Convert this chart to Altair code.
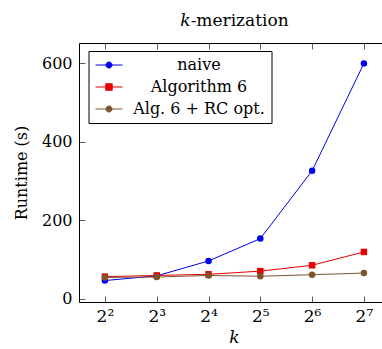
import altair as alt
import pandas as pd

k_values = [4, 8, 16, 32, 64, 128]
naive = [46, 58, 96, 153, 326, 600]
alg6 = [56, 59, 62, 70, 85, 119]
rc_opt = [54, 55, 59, 57, 61, 65]

series_names = ["naive", "Algorithm 6", "Alg. 6 + RC opt."]
series_colors = ["#0000f0", "#e60000", "#7d5430"]
series_shapes = ["circle", "square", "circle"]

rows = []
for name, vals in zip(series_names, [naive, alg6, rc_opt]):
    for k, v in zip(k_values, vals):
        rows.append({"k": k, "runtime": v, "series": name, "entry": name})
df = pd.DataFrame(rows)

FONT = "'DejaVu Serif', serif"
FS = 16
W, H = 303, 259

xscale = alt.Scale(type="log", base=2, domain=[2 ** 1.5, 2 ** 7.349], nice=False, zero=False)
yscale = alt.Scale(domain=[-8.7, 652], nice=False, zero=False)
cscale = alt.Scale(domain=series_names, range=series_colors)
sscale = alt.Scale(domain=series_names, range=series_shapes)

# legend symbols: a short line with the marker on it
circ = "M-2,0L2,0M0.45,0A0.45,0.45,0,1,1,-0.45,0A0.45,0.45,0,1,1,0.45,0Z"
sq = "M-2,0L2,0M-0.48,-0.48L0.48,-0.48L0.48,0.48L-0.48,0.48Z"
lscale = alt.Scale(domain=series_names, range=[circ, sq, circ])

sup = "{'4':'2²','8':'2³','16':'2⁴','32':'2⁵','64':'2⁶','128':'2⁷'}[datum.label]"

ax_bottom = alt.Axis(orient="bottom", values=k_values, labelExpr=sup, offset=-6, tickSize=6,
                     domain=False, grid=False, labelPadding=6, title="k", titleFontStyle="italic",
                     titleFont=FONT, titleFontSize=FS + 1, titleFontWeight="normal", titlePadding=5,
                     titleX=155, labelFont=FONT, labelFontSize=FS + 1, labelColor="black",
                     tickColor="#333", tickWidth=0.8, titleColor="black")
ax_top = alt.Axis(orient="top", values=k_values, offset=-6, tickSize=6, domain=False, grid=False,
                  labels=False, title=None, tickColor="#333", tickWidth=0.8)
ax_bottom_dom = alt.Axis(orient="bottom", domain=True, ticks=False, labels=False, grid=False,
                         title=None, domainColor="black", domainWidth=1)
ax_top_dom = alt.Axis(orient="top", domain=True, ticks=False, labels=False, grid=False,
                      title=None, domainColor="black", domainWidth=1)
ax_left = alt.Axis(orient="left", values=[0, 200, 400, 600], offset=-6, tickSize=6, domain=False,
                   grid=False, labelPadding=7, title="Runtime (s)", titleFont=FONT, titleFontSize=FS,
                   titleFontWeight="normal", titlePadding=12, labelFont=FONT, labelFontSize=FS,
                   labelColor="black", tickColor="#333", tickWidth=0.8, titleColor="black")
ax_left_dom = alt.Axis(orient="left", domain=True, ticks=False, labels=False, grid=False,
                       title=None, domainColor="black", domainWidth=1)

legend = alt.Legend(
    orient="none", legendX=9.5, legendY=8, title=None, direction="vertical",
    labelFont=FONT, labelFontSize=FS, labelColor="black", labelAlign="center",
    labelOffset=82, labelLimit=400, symbolSize=182, symbolOffset=6.5,
    strokeColor="black", padding=6, rowPadding=6, fillColor="white",
    symbolOpacity=1, symbolStrokeWidth=1,
)

base = alt.Chart(df)

lines = base.mark_line(strokeWidth=1).encode(
    x=alt.X("k:Q", scale=xscale, axis=ax_bottom),
    y=alt.Y("runtime:Q", scale=yscale, axis=ax_left),
    color=alt.Color("series:N", scale=cscale, legend=None),
)
points = base.mark_point(filled=True, opacity=1, size=42).encode(
    x=alt.X("k:Q", scale=xscale, axis=ax_top),
    y=alt.Y("runtime:Q", scale=yscale, axis=ax_left_dom),
    color=alt.Color("series:N", scale=cscale, legend=None),
    shape=alt.Shape("series:N", scale=sscale, legend=None),
)
legend_layer = base.transform_filter("false").mark_point(filled=True, opacity=1).encode(
    x=alt.X("k:Q", scale=xscale, axis=None),
    y=alt.Y("runtime:Q", scale=yscale, axis=None),
    fill=alt.Fill("entry:N", scale=cscale, legend=legend),
    stroke=alt.Stroke("entry:N", scale=cscale, legend=legend),
    shape=alt.Shape("entry:N", scale=lscale, legend=legend),
)
frame_b = base.mark_line(opacity=0).encode(
    x=alt.X("k:Q", scale=xscale, axis=ax_bottom_dom),
    y=alt.Y("runtime:Q", scale=yscale, axis=None),
)
frame_t = base.mark_line(opacity=0).encode(
    x=alt.X("k:Q", scale=xscale, axis=ax_top_dom),
    y=alt.Y("runtime:Q", scale=yscale, axis=None),
)

chart = alt.layer(frame_b, frame_t, lines, points, legend_layer).resolve_axis(
    x="independent", y="independent"
).resolve_scale(shape="independent", fill="independent", stroke="independent").properties(
    width=W, height=H,
    title=alt.Title("𝑘-merization", font=FONT, fontSize=FS + 1, fontWeight="normal",
                    color="black", offset=13, dx=4),
    autosize=alt.AutoSizeParams(type="none"),
    padding={"left": 79, "top": 43, "right": 0, "bottom": 47},
).configure_view(stroke=None).configure(background="white")

chart.save("out.html", embed_options={"renderer": "svg", "actions": False})
